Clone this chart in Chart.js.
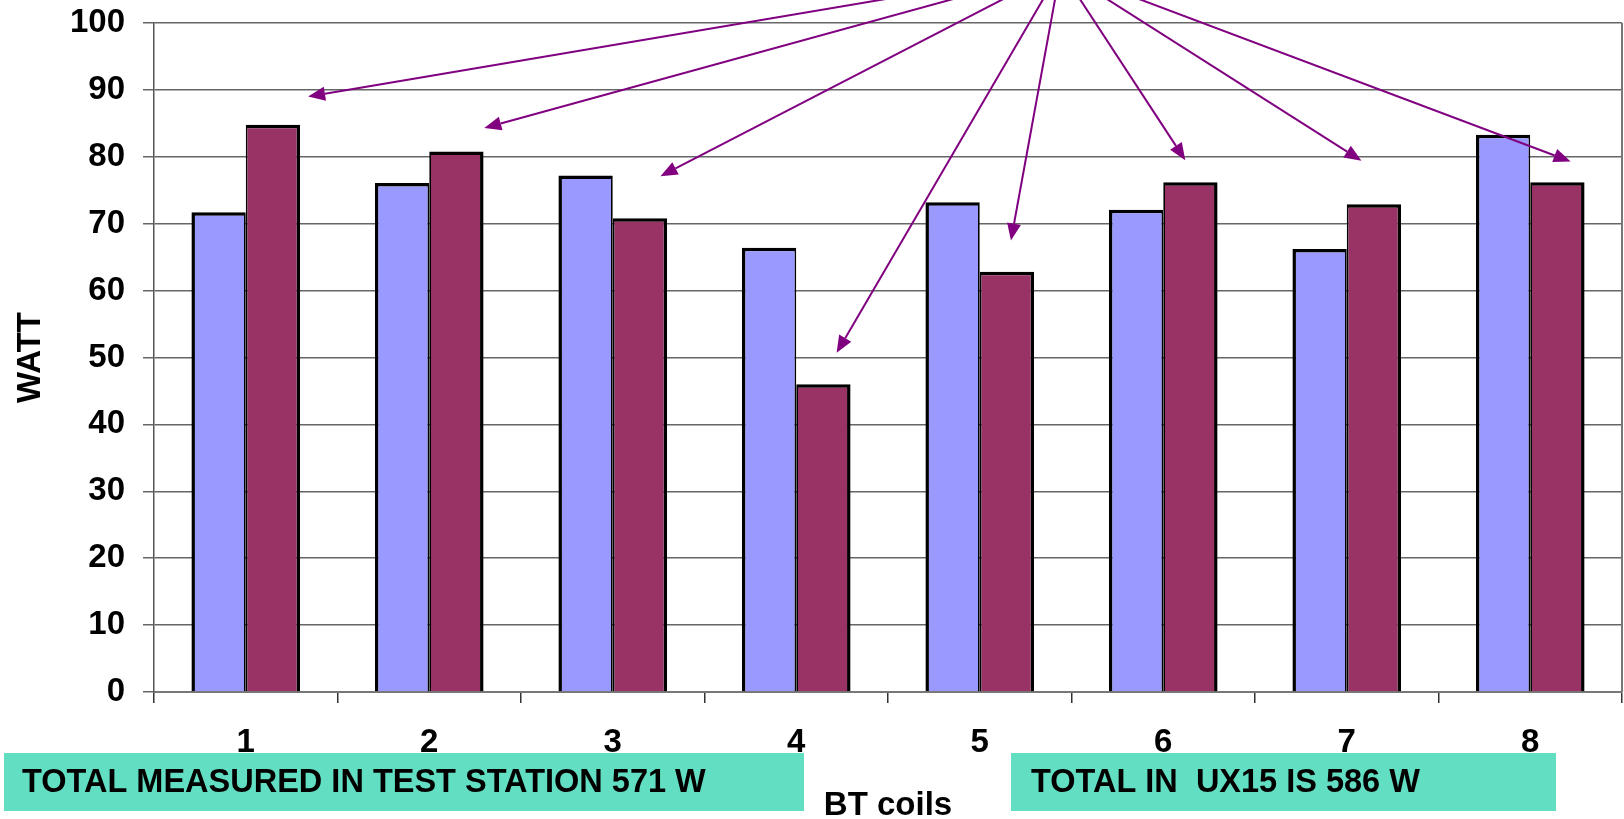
<!DOCTYPE html>
<html>
<head>
<meta charset="utf-8">
<script src="https://cdn.jsdelivr.net/npm/chart.js@4.4.1/dist/chart.umd.min.js"></script>
<style>
  html, body { margin: 0; padding: 0; background: #fff; }
  #wrap { position: relative; width: 1624px; height: 819px; }
</style>
</head>
<body>
<div id="wrap"><canvas id="coilChart"></canvas></div>
<script>
// BT coils power
const coils = ['1', '2', '3', '4', '5', '6', '7', '8'];
const ux15Watts = [71.7, 76.1, 77.2, 66.4, 73.2, 72.1, 66.2, 83.3];
const testStationWatts = [84.8, 80.8, 70.8, 46.0, 62.8, 76.2, 72.9, 76.2];
const wattMin = 0;
const wattMax = 100;
const wattStep = 10;

// arrow annotations, in data units: [category index, watt]
const arrowFrom = [4.44, 108];
const arrowTips = [
    [0.34, 89.0], [1.30, 84.3], [2.26, 77.1], [3.22, 50.7],
    [4.17, 67.5], [5.12, 79.5], [6.08, 79.4], [7.22, 79.3]
];

// note boxes under the axis (pixels)
const notes = [
    { text: 'TOTAL MEASURED IN TEST STATION 571 W', x: 4, y: 753, w: 800, h: 58, tx: 22 },
    { text: 'TOTAL IN  UX15 IS 586 W', x: 1011, y: 753, w: 545, h: 58, tx: 1031 }
];

const FONT = '"Liberation Sans", Arial, sans-serif';
Chart.defaults.font.family = FONT;
Chart.defaults.font.weight = 'bold';
Chart.defaults.color = '#000';

// Right border of plot area
const framePlugin = {
    id: 'frame',
    beforeDatasetsDraw(chart) {
        const { ctx, chartArea } = chart;
        ctx.save();
        ctx.strokeStyle = '#777';
        ctx.lineWidth = 2;
        ctx.beginPath();
        ctx.moveTo(chartArea.right, chartArea.top);
        ctx.lineTo(chartArea.right, chartArea.bottom);
        ctx.stroke();
        ctx.restore();
    }
};

// Purple arrows pointing to the coils
const arrowPlugin = {
    id: 'arrows',
    afterDatasetsDraw(chart) {
        const { ctx, scales } = chart;
        const x0 = scales.x.getPixelForValue(arrowFrom[0]);
        const y0 = scales.y.getPixelForValue(arrowFrom[1]);
        ctx.save();
        ctx.strokeStyle = '#800080';
        ctx.fillStyle = '#800080';
        ctx.lineWidth = 2;
        arrowTips.forEach(t => {
            const x1 = scales.x.getPixelForValue(t[0]);
            const y1 = scales.y.getPixelForValue(t[1]);
            const ang = Math.atan2(y1 - y0, x1 - x0);
            const len = 17, half = 7;
            const bx = x1 - len * Math.cos(ang);
            const by = y1 - len * Math.sin(ang);
            ctx.beginPath();
            ctx.moveTo(x0, y0);
            ctx.lineTo(bx, by);
            ctx.stroke();
            ctx.beginPath();
            ctx.moveTo(x1, y1);
            ctx.lineTo(bx + half * Math.sin(ang), by - half * Math.cos(ang));
            ctx.lineTo(bx - half * Math.sin(ang), by + half * Math.cos(ang));
            ctx.closePath();
            ctx.fill();
        });
        ctx.restore();
    }
};

// Teal note boxes
const notePlugin = {
    id: 'notes',
    afterDraw(chart) {
        const ctx = chart.ctx;
        ctx.save();
        notes.forEach(n => {
            ctx.fillStyle = '#62DEC2';
            ctx.fillRect(n.x, n.y, n.w, n.h);
            ctx.fillStyle = '#000';
            ctx.font = 'bold 32.5px ' + FONT;
            ctx.textAlign = 'left';
            ctx.textBaseline = 'middle';
            ctx.fillText(n.text, n.tx, n.y + n.h / 2 + 1);
        });
        ctx.restore();
    }
};

const ctx = document.getElementById('coilChart').getContext('2d');
new Chart(ctx, {
    type: 'bar',
    data: {
        labels: coils,
        datasets: [
            {
                label: 'UX15',
                data: ux15Watts,
                backgroundColor: '#9999FF',
                borderColor: '#000',
                borderWidth: { left: 3.5, top: 3.5, right: 1.75, bottom: 0 },
                categoryPercentage: 0.592,
                barPercentage: 1
            },
            {
                label: 'Test station',
                data: testStationWatts,
                backgroundColor: '#993366',
                borderColor: '#000',
                borderWidth: { left: 1.75, top: 3.5, right: 3.5, bottom: 0 },
                categoryPercentage: 0.592,
                barPercentage: 1
            }
        ]
    },
    options: {
        responsive: true,
        maintainAspectRatio: false,
        animation: false,
        layout: { padding: { top: 23, right: 2, left: 0, bottom: 0 } },
        plugins: {
            legend: { display: false },
            tooltip: { enabled: false }
        },
        scales: {
            x: {
                afterFit: s => { s.height = 127; },
                grid: {
                    display: true,
                    drawOnChartArea: false,
                    drawTicks: true,
                    tickLength: 11,
                    offset: true,
                    color: '#333',
                    lineWidth: 1.5
                },
                border: { display: true, color: '#777', width: 2 },
                ticks: { font: { size: 33, weight: 'bold' }, padding: 20, maxRotation: 0 },
                title: {
                    display: true,
                    text: 'BT coils',
                    font: { size: 33, weight: 'bold', lineHeight: 0.8 },
                    padding: { top: 0, bottom: 0 }
                }
            },
            y: {
                min: wattMin,
                max: wattMax,
                afterFit: s => {
                    s.width = 154;
                    s.paddingTop = 0;
                    s.paddingBottom = 0;
                },
                ticks: { stepSize: wattStep, font: { size: 33, weight: 'bold' }, padding: 18 },
                grid: { color: '#666', lineWidth: 1.5, tickLength: 11 },
                border: { display: true, color: '#555', width: 1.5 },
                title: {
                    display: true,
                    text: 'WATT',
                    font: { size: 33, weight: 'bold', lineHeight: 1 },
                    padding: { top: 14, bottom: 0 }
                }
            }
        }
    },
    plugins: [framePlugin, arrowPlugin, notePlugin]
});
</script>
</body>
</html>
